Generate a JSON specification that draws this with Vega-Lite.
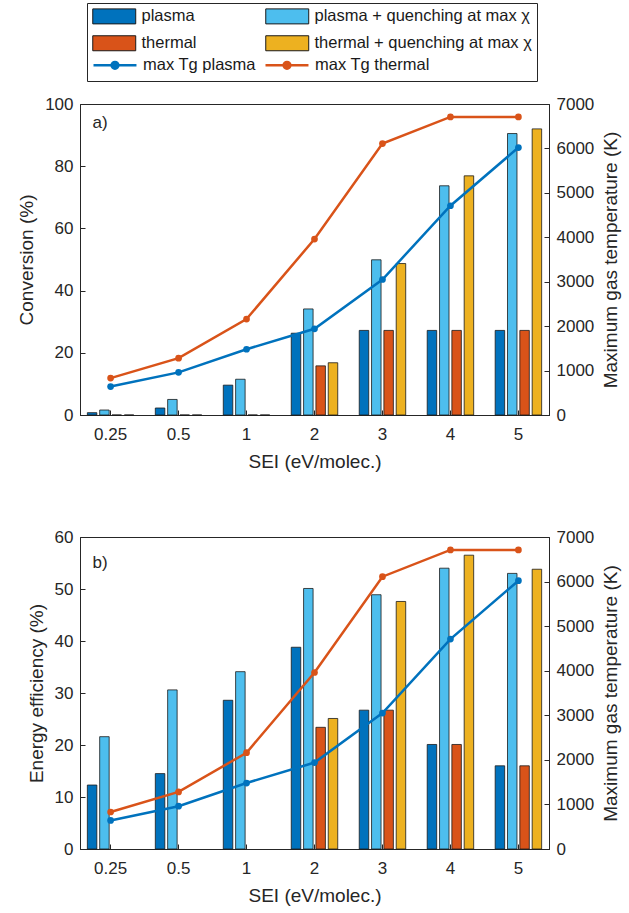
{
  "$schema": "https://vega.github.io/schema/vega-lite/v6.json",
  "padding": {"left": 17, "right": 3, "top": 2, "bottom": 5},
  "background": "white",
  "datasets": {
    "conv": [
      {"SEI": "0.25", "series": "plasma", "value": 0.75},
      {"SEI": "0.25", "series": "plasma + quenching at max χ", "value": 1.6},
      {"SEI": "0.25", "series": "thermal", "value": 0},
      {"SEI": "0.25", "series": "thermal + quenching at max χ", "value": 0},
      {"SEI": "0.5", "series": "plasma", "value": 2.25},
      {"SEI": "0.5", "series": "plasma + quenching at max χ", "value": 5.0},
      {"SEI": "0.5", "series": "thermal", "value": 0},
      {"SEI": "0.5", "series": "thermal + quenching at max χ", "value": 0},
      {"SEI": "1", "series": "plasma", "value": 9.6},
      {"SEI": "1", "series": "plasma + quenching at max χ", "value": 11.5},
      {"SEI": "1", "series": "thermal", "value": 0},
      {"SEI": "1", "series": "thermal + quenching at max χ", "value": 0},
      {"SEI": "2", "series": "plasma", "value": 26.3},
      {"SEI": "2", "series": "plasma + quenching at max χ", "value": 34.1},
      {"SEI": "2", "series": "thermal", "value": 15.8},
      {"SEI": "2", "series": "thermal + quenching at max χ", "value": 16.8},
      {"SEI": "3", "series": "plasma", "value": 27.2},
      {"SEI": "3", "series": "plasma + quenching at max χ", "value": 49.9},
      {"SEI": "3", "series": "thermal", "value": 27.2},
      {"SEI": "3", "series": "thermal + quenching at max χ", "value": 48.7},
      {"SEI": "4", "series": "plasma", "value": 27.2},
      {"SEI": "4", "series": "plasma + quenching at max χ", "value": 73.7},
      {"SEI": "4", "series": "thermal", "value": 27.2},
      {"SEI": "4", "series": "thermal + quenching at max χ", "value": 76.9},
      {"SEI": "5", "series": "plasma", "value": 27.2},
      {"SEI": "5", "series": "plasma + quenching at max χ", "value": 90.5},
      {"SEI": "5", "series": "thermal", "value": 27.2},
      {"SEI": "5", "series": "thermal + quenching at max χ", "value": 92.0}
    ],
    "eff": [
      {"SEI": "0.25", "series": "plasma", "value": 12.3},
      {"SEI": "0.25", "series": "plasma + quenching at max χ", "value": 21.6},
      {"SEI": "0.5", "series": "plasma", "value": 14.5},
      {"SEI": "0.5", "series": "plasma + quenching at max χ", "value": 30.6},
      {"SEI": "1", "series": "plasma", "value": 28.6},
      {"SEI": "1", "series": "plasma + quenching at max χ", "value": 34.1},
      {"SEI": "2", "series": "plasma", "value": 38.8},
      {"SEI": "2", "series": "plasma + quenching at max χ", "value": 50.1},
      {"SEI": "2", "series": "thermal", "value": 23.4},
      {"SEI": "2", "series": "thermal + quenching at max χ", "value": 25.1},
      {"SEI": "3", "series": "plasma", "value": 26.7},
      {"SEI": "3", "series": "plasma + quenching at max χ", "value": 48.9},
      {"SEI": "3", "series": "thermal", "value": 26.7},
      {"SEI": "3", "series": "thermal + quenching at max χ", "value": 47.6},
      {"SEI": "4", "series": "plasma", "value": 20.1},
      {"SEI": "4", "series": "plasma + quenching at max χ", "value": 54.0},
      {"SEI": "4", "series": "thermal", "value": 20.1},
      {"SEI": "4", "series": "thermal + quenching at max χ", "value": 56.5},
      {"SEI": "5", "series": "plasma", "value": 16.0},
      {"SEI": "5", "series": "plasma + quenching at max χ", "value": 53.0},
      {"SEI": "5", "series": "thermal", "value": 16.0},
      {"SEI": "5", "series": "thermal + quenching at max χ", "value": 53.8}
    ],
    "temp": [
      {"SEI": "0.25", "series": "max Tg plasma", "T": 640},
      {"SEI": "0.5", "series": "max Tg plasma", "T": 960},
      {"SEI": "1", "series": "max Tg plasma", "T": 1480},
      {"SEI": "2", "series": "max Tg plasma", "T": 1940},
      {"SEI": "3", "series": "max Tg plasma", "T": 3050},
      {"SEI": "4", "series": "max Tg plasma", "T": 4710},
      {"SEI": "5", "series": "max Tg plasma", "T": 6020},
      {"SEI": "0.25", "series": "max Tg thermal", "T": 830},
      {"SEI": "0.5", "series": "max Tg thermal", "T": 1280},
      {"SEI": "1", "series": "max Tg thermal", "T": 2160},
      {"SEI": "2", "series": "max Tg thermal", "T": 3960},
      {"SEI": "3", "series": "max Tg thermal", "T": 6110},
      {"SEI": "4", "series": "max Tg thermal", "T": 6710},
      {"SEI": "5", "series": "max Tg thermal", "T": 6710}
    ]
  },
  "spacing": 55,
  "vconcat": [
    {
      "width": 469,
      "height": 311,
      "layer": [
        {
          "data": {"name": "conv"},
          "layer": [
            {
              "mark": {"type": "bar", "stroke": "#1a1a1a", "strokeWidth": 0.8},
              "encoding": {
                "x": {"field": "SEI", "type": "ordinal", "scale": {"domain": ["0.25", "0.5", "1", "2", "3", "4", "5"], "paddingInner": 0.3, "paddingOuter": 0.1}, "axis": {"title": "SEI (eV/molec.)", "labelAngle": 0}},
                "xOffset": {"field": "series", "type": "nominal", "scale": {"domain": ["plasma", "plasma + quenching at max χ", "thermal", "thermal + quenching at max χ"], "paddingInner": 0.23, "paddingOuter": 0.045}},
                "y": {"field": "value", "type": "quantitative", "scale": {"domain": [0, 100], "nice": false}, "axis": {"title": "Conversion (%)", "values": [0, 20, 40, 60, 80, 100]}},
                "color": {
                  "field": "series", "type": "nominal",
                  "scale": {"domain": ["plasma", "thermal", "plasma + quenching at max χ", "thermal + quenching at max χ"], "range": ["#0072BD", "#D95319", "#4DBEEE", "#EDB120"]},
                  "legend": {
                    "orient": "none", "legendX": 7, "legendY": -101,
                    "columns": 2,
                    "columnPadding": 66,
                    "symbolType": "M-1,-1H4.73V1H-1Z",
                    "symbolStrokeColor": "#1a1a1a",
                    "symbolStrokeWidth": 1,
                    "symbolOpacity": 1,
                    "title": " ",
                    "titleOrient": "bottom",
                    "titleFontSize": 17,
                    "titlePadding": 7,
                    "strokeColor": "#262626",
                    "fillColor": "white"
                  }
                }
              }
            },
            {
              "data": {"values": [{}]},
              "mark": {"type": "text", "text": "a)", "align": "left", "baseline": "middle", "dx": -18, "fontSize": 17, "font": "Liberation Sans", "color": "#262626"},
              "encoding": {"x": {"datum": "0.25", "type": "ordinal"}, "y": {"datum": 94, "type": "quantitative"}}
            }
          ]
        },
        {
          "data": {"name": "temp"},
          "layer": [
            {
              "mark": {"type": "line", "strokeWidth": 2.5},
              "encoding": {
                "x": {"field": "SEI", "type": "ordinal"},
                "y": {"field": "T", "type": "quantitative", "scale": {"domain": [0, 7000], "nice": false}, "axis": {"orient": "right", "title": "Maximum gas temperature (K)", "titleAngle": 270, "titleBaseline": "top", "format": "d", "values": [0, 1000, 2000, 3000, 4000, 5000, 6000, 7000]}},
                "stroke": {
                  "field": "series", "type": "nominal",
                  "scale": {"domain": ["max Tg plasma", "max Tg thermal"], "range": ["#0072BD", "#D95319"]},
                  "legend": {
                    "orient": "none", "legendX": 7, "legendY": -53,
                    "columns": 2,
                    "columnPadding": 4,
                    "symbolType": "M-1,0H4.73M1.415,0A0.45,0.45 0 1 1 2.315,0A0.45,0.45 0 1 1 1.415,0M1.705,0A0.16,0.16 0 1 1 2.025,0A0.16,0.16 0 1 1 1.705,0",
                    "symbolStrokeWidth": 2.5,
                    "symbolOpacity": 1,
                    "title": null,
                    "strokeColor": null,
                    "fillColor": null
                  }
                }
              }
            },
            {
              "mark": {"type": "point", "filled": true, "size": 45, "opacity": 1, "shape": "circle", "strokeWidth": 0},
              "encoding": {
                "x": {"field": "SEI", "type": "ordinal"},
                "y": {"field": "T", "type": "quantitative"},
                "fill": {"field": "series", "type": "nominal", "scale": {"domain": ["max Tg plasma", "max Tg thermal"], "range": ["#0072BD", "#D95319"]}, "legend": null}
              }
            }
          ]
        }
      ],
      "resolve": {"scale": {"y": "independent"}}
    },
    {
      "width": 469,
      "height": 312,
      "layer": [
        {
          "data": {"name": "eff"},
          "layer": [
            {
              "mark": {"type": "bar", "stroke": "#1a1a1a", "strokeWidth": 0.8},
              "encoding": {
                "x": {"field": "SEI", "type": "ordinal", "scale": {"domain": ["0.25", "0.5", "1", "2", "3", "4", "5"], "paddingInner": 0.3, "paddingOuter": 0.1}, "axis": {"title": "SEI (eV/molec.)", "labelAngle": 0}},
                "xOffset": {"field": "series", "type": "nominal", "scale": {"domain": ["plasma", "plasma + quenching at max χ", "thermal", "thermal + quenching at max χ"], "paddingInner": 0.23, "paddingOuter": 0.045}},
                "y": {"field": "value", "type": "quantitative", "scale": {"domain": [0, 60], "nice": false}, "axis": {"title": "Energy efficiency (%)", "values": [0, 10, 20, 30, 40, 50, 60]}},
                "color": {"field": "series", "type": "nominal", "legend": null}
              }
            },
            {
              "data": {"values": [{}]},
              "mark": {"type": "text", "text": "b)", "align": "left", "baseline": "middle", "dx": -18, "fontSize": 17, "font": "Liberation Sans", "color": "#262626"},
              "encoding": {"x": {"datum": "0.25", "type": "ordinal"}, "y": {"datum": 55, "type": "quantitative"}}
            }
          ]
        },
        {
          "data": {"name": "temp"},
          "layer": [
            {
              "mark": {"type": "line", "strokeWidth": 2.5},
              "encoding": {
                "x": {"field": "SEI", "type": "ordinal"},
                "y": {"field": "T", "type": "quantitative", "scale": {"domain": [0, 7000], "nice": false}, "axis": {"orient": "right", "title": "Maximum gas temperature (K)", "titleAngle": 270, "titleBaseline": "top", "format": "d", "values": [0, 1000, 2000, 3000, 4000, 5000, 6000, 7000]}},
                "stroke": {"field": "series", "type": "nominal", "legend": null}
              }
            },
            {
              "mark": {"type": "point", "filled": true, "size": 45, "opacity": 1, "shape": "circle", "strokeWidth": 0},
              "encoding": {
                "x": {"field": "SEI", "type": "ordinal"},
                "y": {"field": "T", "type": "quantitative"},
                "fill": {"field": "series", "type": "nominal", "legend": null}
              }
            }
          ]
        }
      ],
      "resolve": {"scale": {"y": "independent"}}
    }
  ],
  "config": {
    "font": "Liberation Sans",
    "view": {"stroke": "#262626", "strokeWidth": 1},
    "axis": {
      "grid": false,
      "domainColor": "#262626",
      "tickColor": "#262626",
      "labelColor": "#262626",
      "titleColor": "#262626",
      "labelFont": "Liberation Sans",
      "titleFont": "Liberation Sans",
      "labelFontSize": 17,
      "titleFontSize": 19,
      "titleFontWeight": "normal",
      "tickSize": -5,
      "labelPadding": 12,
      "titlePadding": 8
    },
    "axisX": {"labelPadding": 16, "titlePadding": 10},
    "legend": {
      "symbolSize": 225,
      "labelFont": "Liberation Sans",
      "labelFontSize": 16.5,
      "labelColor": "#1a1a1a",
      "labelLimit": 400,
      "labelOffset": 33,
      "rowPadding": 7,
      "padding": 5,
      "titleFont": "Liberation Sans"
    }
  }
}
